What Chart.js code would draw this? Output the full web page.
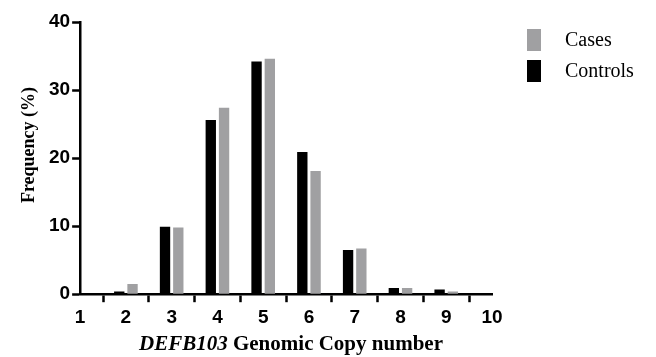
<!DOCTYPE html>
<html>
<head>
<meta charset="utf-8">
<script src="https://cdn.jsdelivr.net/npm/chart.js@4"></script>
<style>
  body { margin: 0; background: #fff; }
  #wrap { width: 656px; height: 357px; }
</style>
</head>
<body>
<div id="wrap"><canvas id="myChart"></canvas></div>
<script>
// copy numbers on the x axis and frequencies (%)
const copyNumbers = [2, 3, 4, 5, 6, 7, 8, 9]
const controls = [0.4, 9.9, 25.6, 34.2, 20.9, 6.5, 0.9, 0.7]
const cases = [1.5, 9.8, 27.4, 34.6, 18.1, 6.7, 0.9, 0.4]
const xTicks = [1, 2, 3, 4, 5, 6, 7, 8, 9, 10]
const yTicks = [0, 10, 20, 30, 40]

const tickFont = { family: 'Liberation Sans', size: 19, weight: 'bold' }

// axis titles: the gene name is italic, and the y title sits a bit high, so draw both by hand
const axisTitles = {
    id: 'axisTitles',
    afterDraw(chart) {
        const ctx = chart.ctx
        const part1 = 'DEFB103 '
        const part2 = 'Genomic Copy number'
        ctx.save()
        ctx.fillStyle = '#000'
        ctx.textBaseline = 'alphabetic'
        ctx.font = 'italic bold 21px "Liberation Serif"'
        let w1 = ctx.measureText(part1).width
        ctx.font = 'bold 21px "Liberation Serif"'
        let w2 = ctx.measureText(part2).width
        let x = 291 - (w1 + w2) / 2
        ctx.font = 'italic bold 21px "Liberation Serif"'
        ctx.fillText(part1, x, 350)
        ctx.font = 'bold 21px "Liberation Serif"'
        ctx.fillText(part2, x + w1, 350)

        ctx.translate(29, 145)
        ctx.rotate(-Math.PI / 2)
        ctx.textAlign = 'center'
        ctx.textBaseline = 'middle'
        ctx.font = 'bold 18px "Liberation Serif"'
        ctx.fillText('Frequency (%)', 0, 0)
        ctx.restore()
    }
}

// legend top right: Cases first, then Controls
const sideLegend = {
    id: 'sideLegend',
    afterDraw(chart) {
        const ctx = chart.ctx
        const sets = chart.data.datasets.slice().reverse()
        ctx.save()
        ctx.font = '20px "Liberation Serif"'
        ctx.textBaseline = 'middle'
        sets.forEach((ds, i) => {
            let top = 29 + i * 31
            ctx.fillStyle = ds.backgroundColor
            ctx.fillRect(527, top, 14, 22)
            ctx.fillStyle = '#000'
            ctx.fillText(ds.label, 565, top + 12)
        })
        ctx.restore()
    }
}

let ctx = document.getElementById('myChart')

let dados = {
    datasets: [{
        label: 'Controls',
        data: copyNumbers.map((n, i) => ({ x: n, y: controls[i] })),
        backgroundColor: '#000000',
        categoryPercentage: 0.58,
        barPercentage: 0.78
    }, {
        label: 'Cases',
        data: copyNumbers.map((n, i) => ({ x: n, y: cases[i] })),
        backgroundColor: '#a0a0a2',
        categoryPercentage: 0.58,
        barPercentage: 0.78
    }]
}

let opcoes = {
    responsive: true,
    maintainAspectRatio: false,
    animation: false,
    layout: { padding: { left: 47, right: 164, top: 22, bottom: 24 } },
    plugins: {
        tooltip: { enabled: false },
        legend: { display: false }
    },
    scales: {
        x: {
            type: 'linear',
            min: 1,
            max: 10,
            offset: false,
            afterBuildTicks: axis => {
                axis.ticks = xTicks.map(v => ({ value: v }))
            },
            ticks: { color: '#000', font: tickFont, padding: 4, maxRotation: 0 },
            grid: { display: true, drawOnChartArea: false, drawTicks: true, tickLength: 8, tickWidth: 2.5, tickColor: '#000' },
            border: { display: true, color: '#000', width: 2.5 }
        },
        y: {
            min: 0,
            max: 40,
            afterBuildTicks: axis => {
                axis.ticks = yTicks.map(v => ({ value: v }))
            },
            ticks: { color: '#000', font: tickFont, padding: 2 },
            grid: { display: true, drawOnChartArea: false, drawTicks: true, tickLength: 8, tickWidth: 2.5, tickColor: '#000' },
            border: { display: true, color: '#000', width: 2.5 }
        }
    }
}

new Chart(ctx, {
    type: 'bar',
    data: dados,
    options: opcoes,
    plugins: [axisTitles, sideLegend]
})
</script>
</body>
</html>
